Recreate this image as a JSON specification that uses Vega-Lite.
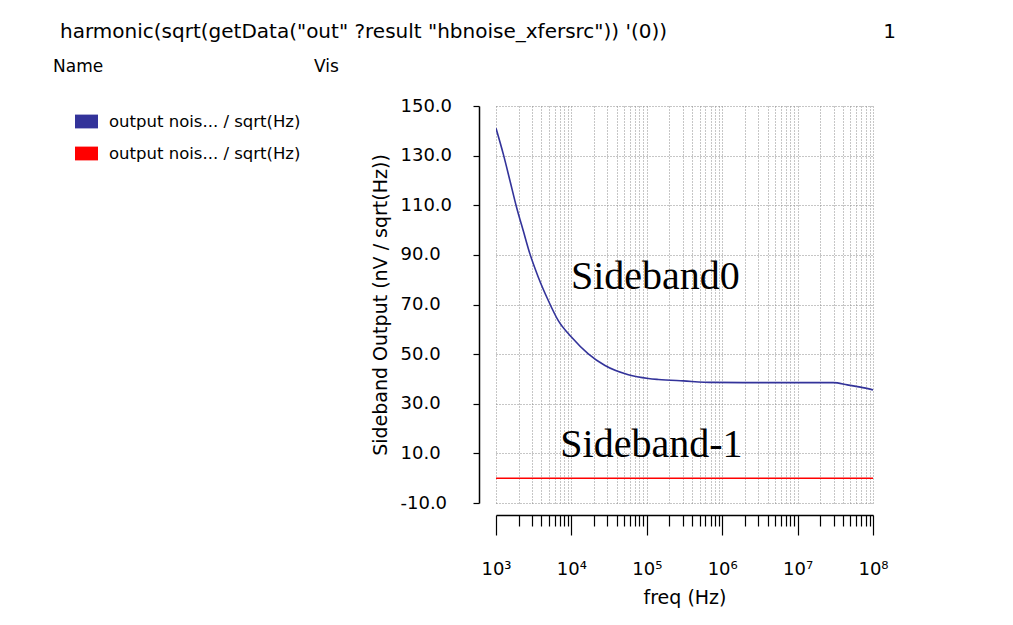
{
  "$schema": "https://vega.github.io/schema/vega-lite/v6.json",
  "autosize": {"type": "none"},
  "width": 377,
  "height": 397,
  "padding": {"left": 496, "top": 106, "right": 140, "bottom": 122},
  "background": "white",
  "title": {
    "text": "harmonic(sqrt(getData(\"out\" ?result \"hbnoise_xfersrc\")) '(0))\u00a0\u00a0\u00a0\u00a0\u00a0\u00a0\u00a0\u00a0\u00a0\u00a0\u00a0\u00a0\u00a0\u00a0\u00a0\u00a0\u00a0\u00a0\u00a0\u00a0\u00a0\u00a0\u00a0\u00a0\u00a0\u00a0\u00a0\u00a0\u00a0\u00a0\u00a0\u00a0\u00a0\u00a01",
    "anchor": "start",
    "frame": "group",
    "dx": -436,
    "dy": -17,
    "offset": 0,
    "limit": 900,
    "font": "DejaVu Sans",
    "fontSize": 20,
    "fontWeight": "normal",
    "color": "black"
  },
  "config": {
    "view": {"stroke": null},
    "font": "DejaVu Sans"
  },
  "layer": [
    {
      "data": {
        "values": [
          {"freq": 1000, "value": 141, "series": "Sideband0"},
          {"freq": 1250, "value": 130.6, "series": "Sideband0"},
          {"freq": 1535, "value": 119.8, "series": "Sideband0"},
          {"freq": 1877, "value": 109.1, "series": "Sideband0"},
          {"freq": 2300, "value": 99.7, "series": "Sideband0"},
          {"freq": 2825, "value": 90.3, "series": "Sideband0"},
          {"freq": 3640, "value": 81, "series": "Sideband0"},
          {"freq": 4940, "value": 71.6, "series": "Sideband0"},
          {"freq": 6700, "value": 63.5, "series": "Sideband0"},
          {"freq": 10070, "value": 56.8, "series": "Sideband0"},
          {"freq": 16750, "value": 50.1, "series": "Sideband0"},
          {"freq": 27900, "value": 45.4, "series": "Sideband0"},
          {"freq": 56900, "value": 41.7, "series": "Sideband0"},
          {"freq": 104700, "value": 40.2, "series": "Sideband0"},
          {"freq": 142000, "value": 39.8, "series": "Sideband0"},
          {"freq": 305000, "value": 39.2, "series": "Sideband0"},
          {"freq": 762000, "value": 38.6, "series": "Sideband0"},
          {"freq": 3000000, "value": 38.5, "series": "Sideband0"},
          {"freq": 29800000, "value": 38.5, "series": "Sideband0"},
          {"freq": 45700000, "value": 37.6, "series": "Sideband0"},
          {"freq": 68000000, "value": 36.7, "series": "Sideband0"},
          {"freq": 100000000, "value": 35.6, "series": "Sideband0"},
          {"freq": 1000, "value": 0, "series": "Sideband-1"},
          {"freq": 10000, "value": 0, "series": "Sideband-1"},
          {"freq": 100000, "value": 0, "series": "Sideband-1"},
          {"freq": 1000000, "value": 0, "series": "Sideband-1"},
          {"freq": 10000000, "value": 0, "series": "Sideband-1"},
          {"freq": 100000000, "value": 0, "series": "Sideband-1"}
        ]
      },
      "mark": {"type": "line", "strokeWidth": 1.6, "interpolate": "monotone", "clip": true},
      "encoding": {
        "x": {
          "field": "freq",
          "type": "quantitative",
          "scale": {"type": "log", "domain": [1000, 100000000], "nice": false},
          "axis": {
            "title": "freq (Hz)",
            "titleFont": "DejaVu Sans",
            "titleFontSize": 19,
            "titleFontWeight": "normal",
            "titleColor": "black",
            "titlePadding": 10,
            "offset": 12,
            "values": [1000, 2000, 3000, 4000, 5000, 6000, 7000, 8000, 9000,
                       10000, 20000, 30000, 40000, 50000, 60000, 70000, 80000, 90000,
                       100000, 200000, 300000, 400000, 500000, 600000, 700000, 800000, 900000,
                       1000000, 2000000, 3000000, 4000000, 5000000, 6000000, 7000000, 8000000, 9000000,
                       10000000, 20000000, 30000000, 40000000, 50000000, 60000000, 70000000, 80000000, 90000000,
                       100000000],
            "labelExpr": "abs(log(datum.value)/LN10 - round(log(datum.value)/LN10)) < 0.001 ? '10' + ['⁰','¹','²','³','⁴','⁵','⁶','⁷','⁸','⁹'][round(log(datum.value)/LN10)] : ''",
            "labelFont": "DejaVu Sans",
            "labelFontSize": 18,
            "labelColor": "black",
            "labelBaseline": "top",
            "labelPadding": 25,
            "labelOverlap": false,
            "labelFlush": false,
            "tickColor": "black",
            "tickWidth": 1.2,
            "tickSize": {"condition": {"test": "abs(log(datum.value)/LN10 - round(log(datum.value)/LN10)) < 0.001", "value": 20}, "value": 11},
            "domainColor": "black",
            "domainWidth": 1.5,
            "grid": true,
            "gridColor": "#8c8c8c",
            "gridDash": [1, 2],
            "gridWidth": 1
          }
        },
        "y": {
          "field": "value",
          "type": "quantitative",
          "scale": {"domain": [-10, 150], "nice": false, "zero": false},
          "axis": {
            "title": "Sideband Output (nV / sqrt(Hz))",
            "titleFont": "DejaVu Sans",
            "titleFontSize": 19,
            "titleFontWeight": "normal",
            "titleColor": "black",
            "titlePadding": 10,
            "offset": 17,
            "values": [-10, -5, 0, 5, 10, 15, 20, 25, 30, 35, 40, 45, 50, 55, 60, 65, 70, 75, 80, 85, 90, 95, 100, 105, 110, 115, 120, 125, 130, 135, 140, 145, 150],
            "labelExpr": "(datum.value + 10) % 20 == 0 ? datum.value + '.0' : ''",
            "labelFont": "DejaVu Sans",
            "labelFontSize": 18,
            "labelColor": "black",
            "labelAlign": "left",
            "labelPadding": 73,
            "labelOverlap": false,
            "labelFlush": false,
            "tickColor": "black",
            "tickWidth": 1.2,
            "tickSize": 6,
            "domainColor": "black",
            "domainWidth": 1.5,
            "grid": true,
            "gridColor": "#8c8c8c",
            "gridDash": [1, 2],
            "gridWidth": 1,
            "gridOpacity": {"condition": {"test": "datum.value % 10 == 0", "value": 1}, "value": 0}
          }
        },
        "color": {
          "field": "series",
          "type": "nominal",
          "scale": {"domain": ["Sideband0", "Sideband-1"], "range": ["#33339a", "#ff0000"]},
          "legend": {
            "title": "Name\u00a0\u00a0\u00a0\u00a0\u00a0\u00a0\u00a0\u00a0\u00a0\u00a0\u00a0\u00a0\u00a0\u00a0\u00a0\u00a0\u00a0\u00a0\u00a0\u00a0\u00a0\u00a0\u00a0\u00a0\u00a0\u00a0\u00a0\u00a0\u00a0\u00a0\u00a0\u00a0\u00a0\u00a0\u00a0\u00a0\u00a0\u00a0\u00a0Vis",
            "titleFont": "DejaVu Sans",
            "titleFontSize": 17,
            "titleFontWeight": "normal",
            "titleColor": "black",
            "titleLimit": 400,
            "titlePadding": 34,
            "orient": "none",
            "legendX": -443,
            "legendY": -47,
            "padding": 0,
            "symbolType": "M-1,-0.6H1V0.6H-1Z",
            "symbolSize": 529,
            "symbolOffset": 22,
            "symbolStrokeWidth": 0,
            "labelExpr": "'output nois... / sqrt(Hz)'",
            "labelFont": "DejaVu Sans",
            "labelFontSize": 16.5,
            "labelColor": "black",
            "labelLimit": 300,
            "labelOffset": 11,
            "rowPadding": 12,
            "encode": {
              "symbols": {"update": {"fill": {"scale": "color", "field": "value"}, "fillOpacity": {"value": 1}, "strokeWidth": {"value": 0}}}
            }
          }
        }
      }
    },
    {
      "data": {
        "values": [
          {"label": "Sideband0", "freq": 130000, "value": 81},
          {"label": "Sideband-1", "freq": 115000, "value": 13.2}
        ]
      },
      "mark": {"type": "text", "font": "Liberation Serif", "fontSize": 40, "baseline": "middle", "align": "center", "color": "black"},
      "encoding": {
        "x": {"field": "freq", "type": "quantitative"},
        "y": {"field": "value", "type": "quantitative"},
        "text": {"field": "label"}
      }
    }
  ]
}
